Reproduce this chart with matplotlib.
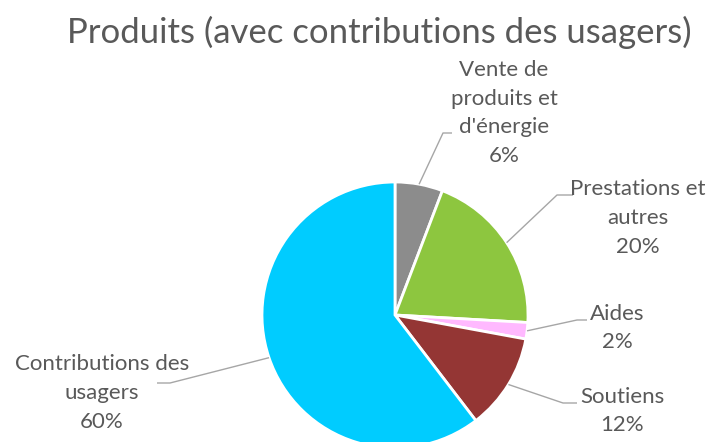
import numpy as np
import matplotlib
matplotlib.use('Agg')
import matplotlib.pyplot as plt

plt.rcParams['font.family'] = ['Lato', 'DejaVu Sans']

title = 'Produits (avec contributions des usagers)'
categories = ['Vente de\nproduits et\nd\'énergie', 'Prestations et\nautres', 'Aides',
              'Soutiens', 'Contributions des\nusagers']
values = [5.8, 20.1, 2.0, 11.7, 60.4]
colors = ['#8c8c8c', '#8dc63f', '#ffb9ff', '#943634', '#00ccff']

W, H = 710, 442
TEXT = '#595959'
LINE = '#a6a6a6'

fig = plt.figure(figsize=(W / 100, H / 100), dpi=100)
ax = fig.add_axes([0, 0, 1, 1])

# pie in pixel coordinates (y measured from the bottom)
cx, cy, r = 395, H - 315, 133
wedges, _ = ax.pie(values, colors=colors, startangle=90, counterclock=False,
                   center=(cx, cy), radius=r,
                   wedgeprops=dict(edgecolor='white', linewidth=2))
ax.set_xlim(0, W)
ax.set_ylim(0, H)
ax.set_aspect('auto')
ax.axis('off')

ax.text(379, H - 32, title, ha='center', va='center', fontsize=25, color=TEXT)

# label block centre and leader elbow (pixels from top-left)
label_pos = [(504, 113), (638, 218), (617, 328), (622, 411), (102, 393)]
elbows = [((443, 133), (452, 133)), ((557, 195), (573, 195)),
          ((577, 320), (587, 320)), ((563, 403), (577, 403)),
          ((170, 383), (157, 383))]

total = sum(values)
for w, cat, v, (lx, ly), (e1, e2) in zip(wedges, categories, values, label_pos, elbows):
    ang = np.deg2rad((w.theta1 + w.theta2) / 2)
    sx, sy = cx + r * np.cos(ang), cy + r * np.sin(ang)
    ax.plot([sx, e1[0], e2[0]], [sy, H - e1[1], H - e2[1]], color=LINE, lw=1.0,
            solid_capstyle='butt')
    pct = '%d%%' % round(v / total * 100)
    ax.text(lx, H - ly, cat + '\n' + pct, ha='center', va='center', fontsize=16,
            color=TEXT, linespacing=1.55)

fig.savefig('out.png', dpi=100)
